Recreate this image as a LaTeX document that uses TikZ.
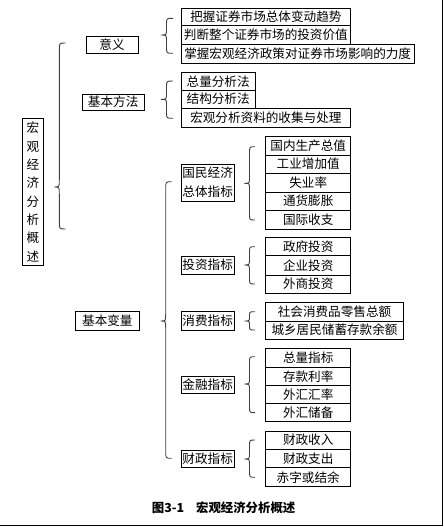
\documentclass[tikz,border=0pt]{standalone}
\usepackage{fontspec}
\newfontfamily\cjk{Noto Sans CJK SC}
\tikzset{
  box/.style={draw=black, line width=0.9pt, inner sep=0pt, align=center,
    font=\cjk\fontsize{12.6}{19}\selectfont},
  bracestyle/.style={draw=black!75, line width=0.9pt},
  frameline/.style={draw=black, line width=1.3pt},
  captionstyle/.style={inner sep=0pt, font=\cjk\bfseries\fontsize{12.4}{14}\selectfont}
}
\newcommand{\bx}[6]{\node[box, minimum width={#4-#2}, minimum height={#5-#3}] (#1) at ({(#2+#4)/2},{(#3+#5)/2}) {#6};}
\newcommand{\brc}[7]{\draw[bracestyle] (#1,#4) .. controls (#2,#4) .. (#2,{#4+#7}) -- (#2,{#5-#7}) .. controls (#2,#5) .. (#3,#5) .. controls (#2,#5) .. (#2,{#5+#7}) -- (#2,{#6-#7}) .. controls (#2,#6) .. (#1,#6);}
\begin{document}
\begin{tikzpicture}[x=1pt,y=-1pt]
\useasboundingbox (0,0) rectangle (444,527);
\fill[white] (0,0) rectangle (444,527);
% frame lines
\draw[frameline] (442.7,0) -- (442.7,525.8) -- (0,525.8);
% root
\node[box, minimum width=21, minimum height=147.4, font=\cjk\fontsize{12.6}{18.34}\selectfont] (root) at (32.8,192) {宏\\观\\经\\济\\分\\析\\概\\述};
% level 1
\bx{yiyi}{86}{36}{138}{53}{意义}
\bx{fangfa}{82.3}{94.3}{144}{110}{基本方法}
\bx{bianliang}{75.7}{311.7}{139}{330}{基本变量}
% level 2
\bx{a1}{181}{8.3}{350.7}{25.7}{把握证券市场总体变动趋势}
\bx{a2}{181}{25.7}{350.7}{44.3}{判断整个证券市场的投资价值}
\bx{a3}{181}{44.3}{414.3}{63.3}{掌握宏观经济政策对证券市场影响的力度}
\bx{b1}{181}{72.7}{255.3}{90}{总量分析法}
\bx{b2}{181}{90}{255.3}{108.3}{结构分析法}
\bx{b3}{181}{108.3}{350.7}{127.3}{宏观分析资料的收集与处理}
% level 3
\bx{guomin}{181}{164}{234.3}{201}{国民经济\\总体指标}
\bx{touzi}{181}{256}{234.3}{274.3}{投资指标}
\bx{xiaofei}{181}{311.7}{234.3}{330}{消费指标}
\bx{jinrong}{181}{376}{234.3}{393.3}{金融指标}
\bx{caizheng}{181}{450}{234.3}{467.7}{财政指标}
% level 4
\bx{g1}{265.7}{136.7}{350.7}{155}{国内生产总值}
\bx{g2}{265.7}{155}{350.7}{173.3}{工业增加值}
\bx{g3}{265.7}{173.3}{350.7}{192}{失业率}
\bx{g4}{265.7}{192}{350.7}{210.3}{通货膨胀}
\bx{g5}{265.7}{210.3}{350.7}{229}{国际收支}
\bx{t1}{265.7}{237.3}{350.7}{255.7}{政府投资}
\bx{t2}{265.7}{255.7}{350.7}{275}{企业投资}
\bx{t3}{265.7}{275}{350.7}{293.3}{外商投资}
\bx{x1}{265.7}{302.7}{403.3}{321}{社会消费品零售总额}
\bx{x2}{265.7}{321}{403.3}{339.3}{城乡居民储蓄存款余额}
\bx{j1}{265.7}{348.3}{350.7}{367.3}{总量指标}
\bx{j2}{265.7}{367.3}{350.7}{385.7}{存款利率}
\bx{j3}{265.7}{385.7}{350.7}{403.3}{外汇汇率}
\bx{j4}{265.7}{403.3}{350.7}{421.7}{外汇储备}
\bx{c1}{265.7}{431}{350.7}{449.3}{财政收入}
\bx{c2}{265.7}{449.3}{350.7}{467.7}{财政支出}
\bx{c3}{265.7}{467.7}{350.7}{486.7}{赤字或结余}
% braces
\brc{65.5}{59.3}{54.3}{43}{187}{229}{7}
\brc{173}{166.5}{161}{18.3}{35}{53.3}{6}
\brc{173}{166.5}{161}{81}{99.3}{118.3}{6}
\brc{171.7}{165.7}{160.7}{181.7}{321}{458.3}{7}
\brc{255}{249.5}{244.3}{146.7}{183.3}{220}{6}
\brc{255}{249.5}{244.3}{246.7}{265}{284}{6}
\brc{255}{249.5}{244.3}{311.7}{321}{330}{4}
\brc{255}{249.5}{244.3}{356.7}{384}{412.7}{6}
\brc{255}{249.5}{244.3}{440}{459}{477.3}{6}
% caption
\node[captionstyle, anchor=west] (cap) at (151.7,507.3) {图3-1\hspace{12pt}宏观经济分析概述};
\end{tikzpicture}
\end{document}
